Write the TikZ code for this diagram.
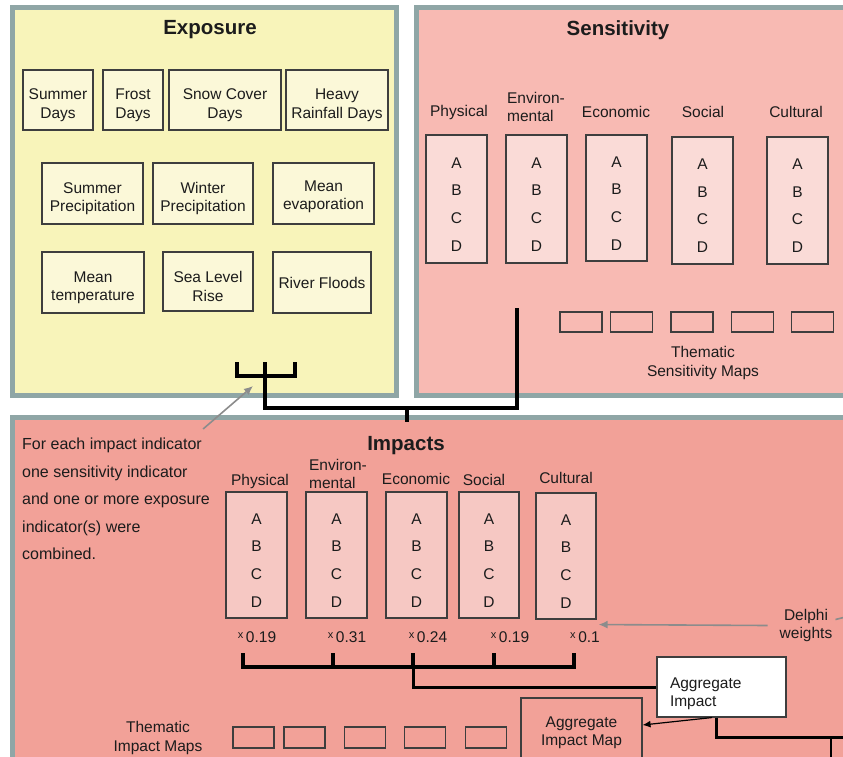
\documentclass[tikz,border=0pt]{standalone}
\usepackage{fontspec}
\setmainfont{Liberation Sans}
\usetikzlibrary{arrows.meta}

\definecolor{expfill}{RGB}{248,244,186}
\definecolor{expbox}{RGB}{251,248,216}
\definecolor{sensfill}{RGB}{248,186,179}
\definecolor{sensbox}{RGB}{250,219,215}
\definecolor{impfill}{RGB}{242,161,152}
\definecolor{impbox}{RGB}{246,200,195}
\definecolor{frame}{RGB}{143,166,166}
\definecolor{ink}{RGB}{28,28,28}

\begin{document}
\begin{tikzpicture}[x=1pt, y=-1pt,
    panel/.style = {draw=frame, line width=5pt},
    title/.style = {inner sep=0pt, font=\fontsize{20.5}{24}\selectfont\bfseries, text=ink},
    ind/.style = {draw=ink!85, line width=1.1pt, fill=expbox, align=center, inner sep=0pt,
                  font=\fontsize{15.5}{18.5}\selectfont, text=ink, text height=#1},
    ind/.default = 40pt,
    col/.style = {draw=ink!85, line width=1.1pt, minimum width=61pt, minimum height=127pt,
                  inner sep=0pt, align=center, font=\fontsize{15.5}{27.6}\selectfont, text=ink,
                  text height=104pt},
    lab/.style = {align=center, inner sep=0pt, font=\fontsize{15.5}{18.5}\selectfont, text=ink},
    mapbox/.style = {draw=ink!85, line width=1.1pt, minimum width=42pt, minimum height=20pt, inner sep=0pt},
    weight/.style = {inner sep=0pt, font=\fontsize{15.5}{18}\selectfont, text=ink},
    fork/.style = {line width=4pt, draw=black},
    link/.style = {line width=3pt, draw=black},
    greyarrow/.style = {draw=gray!90, line width=1.6pt, -{Latex[length=9pt,width=8pt]}}]

    \path[use as bounding box, clip] (0,0) rectangle (843,757);
    \fill[white] (0,0) rectangle (843,757);

    % the three panels
    \draw[panel, fill=expfill] (12.5,7.5) rectangle (396.5,395.5);
    \draw[panel, fill=sensfill] (416.5,7.5) rectangle (870,395.5);
    \draw[panel, fill=impfill] (12.5,417.5) rectangle (870,790);

    %% Exposure
    \node[title] (exptitle) at (210,30) {Exposure};

    \node[ind, minimum width=70pt, minimum height=60pt] (sumdays) at (58,100) {Summer\\Days};
    \node[ind, minimum width=60pt, minimum height=60pt] (frostdays) at (133,100) {Frost\\Days};
    \node[ind, minimum width=112pt, minimum height=60pt] (snowdays) at (225,100) {Snow Cover\\Days};
    \node[ind, minimum width=102pt, minimum height=60pt] (raindays) at (337,100) {Heavy\\Rainfall Days};

    \node[ind, minimum width=101pt, minimum height=61pt] (sumprec) at (92.5,193.5) {Summer\\Precipitation};
    \node[ind, minimum width=100pt, minimum height=61pt] (winprec) at (203,193.5) {Winter\\Precipitation};
    \node[ind=36pt, minimum width=101pt, minimum height=61pt] (meanevap) at (323.5,193.5) {Mean\\evaporation};

    \node[ind, minimum width=102pt, minimum height=61pt] (meantemp) at (93,282.5) {Mean\\temperature};
    \node[ind, minimum width=90pt, minimum height=59pt] (sealevel) at (208,281.5) {Sea Level\\Rise};
    \node[ind=11.5pt, minimum width=98pt, minimum height=61pt] (floods) at (322,282.5) {River Floods};

    %% Sensitivity
    \node[title] (senstitle) at (618,30) {Sensitivity};

    \node[lab] (lsPhys) at (459,112) {Physical};
    \node[lab, align=left] (lsEnv) at (536,107) {Environ-\\mental};
    \node[lab] (lsEcon) at (616,112) {Economic};
    \node[lab] (lsSoc) at (703,112) {Social};
    \node[lab] (lsCult) at (796,112) {Cultural};

    \node[col, fill=sensbox, minimum height=128pt] (sPhys) at (456.5,199) {A\\B\\C\\D};
    \node[col, fill=sensbox, minimum height=128pt] (sEnv) at (536.5,199) {A\\B\\C\\D};
    \node[col, fill=sensbox, minimum height=126pt] (sEcon) at (616.5,198) {A\\B\\C\\D};
    \node[col, fill=sensbox] (sSoc) at (702.5,200.5) {A\\B\\C\\D};
    \node[col, fill=sensbox] (sCult) at (797.5,200.5) {A\\B\\C\\D};

    \node[mapbox] (smap1) at (581,322) {};
    \node[mapbox] (smap2) at (631.5,322) {};
    \node[mapbox] (smap3) at (692,322) {};
    \node[mapbox] (smap4) at (752.5,322) {};
    \node[mapbox] (smap5) at (812.5,322) {};
    \node[lab] (smaps) at (703,363) {Thematic\\Sensitivity Maps};

    %% Impacts
    \node[title] (imptitle) at (406,446) {Impacts};

    \node[lab, align=left] (note) at (22,438) [anchor=north west,
        font=\fontsize{16}{27.5}\selectfont] {For each impact indicator\\one sensitivity indicator\\and one or more exposure\\indicator(s) were\\combined.};

    \node[lab] (liPhys) at (260,481) {Physical};
    \node[lab, align=left] (liEnv) at (338,474) {Environ-\\mental};
    \node[lab] (liEcon) at (416,479) {Economic};
    \node[lab] (liSoc) at (484,480) {Social};
    \node[lab] (liCult) at (566,478) {Cultural};

    \node[col, fill=impbox, minimum height=126pt] (iPhys) at (256.5,555) {A\\B\\C\\D};
    \node[col, fill=impbox, minimum height=126pt] (iEnv) at (336.5,555) {A\\B\\C\\D};
    \node[col, fill=impbox, minimum height=126pt] (iEcon) at (416.5,555) {A\\B\\C\\D};
    \node[col, fill=impbox, minimum height=126pt, minimum width=60pt] (iSoc) at (489,555) {A\\B\\C\\D};
    \node[col, fill=impbox, minimum height=126pt, minimum width=60pt] (iCult) at (566,556) {A\\B\\C\\D};

    \newcommand{\wt}[1]{\raisebox{3.5pt}{\fontsize{11}{11}\selectfont x}\,#1}
    \node[weight] (wPhys) at (257,637) {\wt{0.19}};
    \node[weight] (wEnv) at (347,637) {\wt{0.31}};
    \node[weight] (wEcon) at (428,637) {\wt{0.24}};
    \node[weight] (wSoc) at (510,637) {\wt{0.19}};
    \node[weight] (wCult) at (585,637) {\wt{0.1}};

    \node[lab] (delphi) at (806,625.5) {Delphi\\weights};

    \node[lab, draw=ink!85, line width=1.1pt, fill=white, text width=103pt, align=left,
          inner xsep=13pt, minimum height=60pt,
          execute at begin node={\rule{0pt}{24pt}}] (aggr) at (721.5,687) {Aggregate\\Impact};
    \node[lab, draw=ink!85, line width=1.1pt, minimum width=121pt, minimum height=70pt] (aggmap) at (581.5,733) {Aggregate\\Impact Map};

    \node[mapbox, minimum width=41pt, minimum height=21pt] (imap1) at (253.5,737.5) {};
    \node[mapbox, minimum width=41pt, minimum height=21pt] (imap2) at (304.5,737.5) {};
    \node[mapbox, minimum width=41pt, minimum height=21pt] (imap3) at (365,737.5) {};
    \node[mapbox, minimum width=41pt, minimum height=21pt] (imap4) at (425,737.5) {};
    \node[mapbox, minimum width=41pt, minimum height=21pt] (imap5) at (486,737.5) {};
    \node[lab] (imaps) at (158,738) {Thematic\\Impact Maps};

    % exposure and sensitivity joined into impacts
    \coordinate (eL) at (237,362);
    \coordinate (eM) at (265,362);
    \coordinate (eR) at (295,362);
    \coordinate (eBar) at (265,376);
    \coordinate (xJoin) at (407,408);
    \coordinate (sStem) at (517,308);
    \coordinate (iTop) at (407,422);
    \draw[fork] (eL) |- (eBar) -| (eR);
    \draw[fork] (eM) -- (eBar) |- (xJoin) -| (sStem);
    \draw[fork] (xJoin) -- (iTop);

    % weighted sum of the impact columns
    \coordinate (tPhys) at (243,653);
    \coordinate (tEnv) at (333,653);
    \coordinate (tEcon) at (413,653);
    \coordinate (tSoc) at (494,653);
    \coordinate (tCult) at (574,653);
    \coordinate (wMid) at (413,667);
    \draw[fork] (tPhys) |- (wMid) -| (tCult);
    \draw[fork] (tEnv) -- (tEnv |- wMid);
    \draw[fork] (tSoc) -- (tSoc |- wMid);
    \draw[fork] (tEcon) -- (wMid);
    \draw[link] (wMid) |- (aggr.west);

    \coordinate (offR) at (850,737);
    \coordinate (offB) at (831,760);
    \draw[link] ([xshift=-5.5pt]aggr.south) |- (offR);
    \draw[line width=1.2pt] (offB |- offR) -- (offB);
    \draw[line width=1.2pt, -{Latex[length=8pt,width=7pt]}] ([xshift=-9.5pt]aggr.south) -- ([yshift=8pt]aggmap.east);

    % annotations
    \draw[greyarrow] ([xshift=-12pt]delphi.west) -- ([xshift=2pt,yshift=-5pt]iCult.south east);
    \draw[draw=gray!90, line width=1.6pt] ([xshift=3pt,yshift=6pt]delphi.east) -- ++(12,-3);
    \draw[greyarrow] ([xshift=-7pt,yshift=9pt]note.north east) -- ([xshift=-12pt,yshift=-10pt]eBar);
\end{tikzpicture}
\end{document}
